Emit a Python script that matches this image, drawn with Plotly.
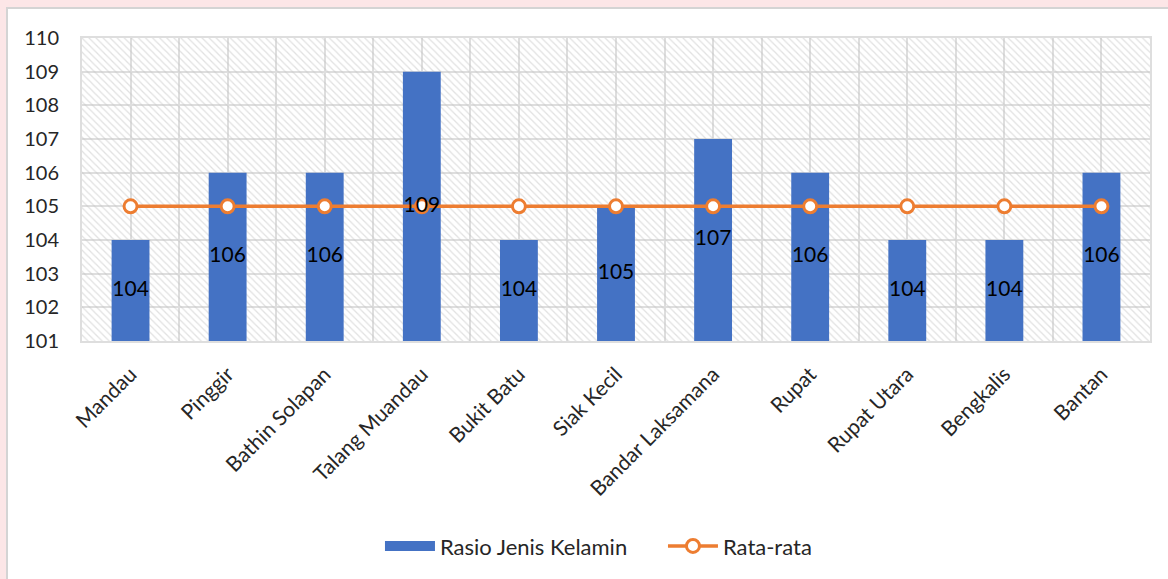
import plotly.graph_objects as go

kecamatan = ["Mandau", "Pinggir", "Bathin Solapan", "Talang Muandau", "Bukit Batu",
             "Siak Kecil", "Bandar Laksamana", "Rupat", "Rupat Utara", "Bengkalis", "Bantan"]
rasio = [104, 106, 106, 109, 104, 105, 107, 106, 104, 104, 106]
rata_rata = [105] * len(kecamatan)
y_min, y_max = 101, 110

FONT = "Lato, 'Open Sans', sans-serif"
BLUE = "#4472C4"
ORANGE = "#ED7D31"
GRID = "#dedede"
n = len(kecamatan)

fig = go.Figure()

# hatched plot-area background on the base (linear) x axis
fig.add_trace(go.Bar(
    x=[(n - 1) / 2], y=[y_max - y_min], base=y_min, width=n,
    xaxis="x", marker=dict(color="rgba(0,0,0,0)", line_width=0,
                           pattern=dict(shape="\\", size=5, solidity=0.25,
                                        fgcolor="#c4c4c4", bgcolor="rgba(0,0,0,0)")),
    showlegend=False, hoverinfo="skip",
))

# data on the overlay category axis so it sits above the hatch
fig.add_trace(go.Bar(
    x=kecamatan, y=[v - y_min for v in rasio], base=y_min, xaxis="x2",
    name="Rasio Jenis Kelamin", marker=dict(color=BLUE, line_width=0), width=0.39,
    customdata=rasio, hovertemplate="%{x}: %{customdata}<extra></extra>",
    showlegend=False, legendgroup="rasio",
))
# wide legend key for the bars
fig.add_trace(go.Scatter(
    x=[None], y=[None], xaxis="x2", mode="lines", name="Rasio Jenis Kelamin",
    line=dict(color=BLUE, width=14), legendgroup="rasio", hoverinfo="skip",
))

fig.add_trace(go.Scatter(
    x=kecamatan, y=rata_rata, name="Rata-rata", mode="lines+markers", xaxis="x2",
    line=dict(color=ORANGE, width=3.5),
    marker=dict(symbol="circle", size=13, color="white", line=dict(color=ORANGE, width=3)),
))

# data labels, centred in the visible part of each bar, drawn on top of the line
fig.add_trace(go.Scatter(
    x=kecamatan, y=[(y_min + v) / 2 for v in rasio], xaxis="x2", mode="text",
    text=[str(v) for v in rasio], textfont=dict(color="black", size=21, family=FONT),
    showlegend=False, hoverinfo="skip",
))

fig.update_layout(
    width=1168, height=579,
    margin=dict(l=82, r=18, t=38, b=238, autoexpand=False),
    paper_bgcolor="#fce6e7", plot_bgcolor="white",
    font=dict(family=FONT, color="#262626"),
    bargap=0.6, barmode="overlay",
    xaxis=dict(range=[-0.5, n - 0.5], dtick=0.5, tick0=-0.5,
               showgrid=True, gridcolor=GRID, gridwidth=1.5, showticklabels=False,
               zeroline=False, ticks="",
               showline=True, linecolor=GRID, linewidth=2, mirror=True),
    xaxis2=dict(type="category", overlaying="x", side="bottom", showgrid=False,
                tickangle=-45, tickfont=dict(size=21, color="#262626"), ticks="",
                range=[-0.5, n - 0.5], zeroline=False, ticklabelstandoff=16),
    yaxis=dict(range=[y_min, y_max], dtick=1, showgrid=True, gridcolor=GRID, gridwidth=1.5,
               tickfont=dict(size=20, color="#262626"), zeroline=False,
               showline=True, linecolor=GRID, linewidth=2, mirror=True, ticklen=0,
               ticklabelstandoff=17),
    legend=dict(orientation="h", x=0.279, xanchor="left", y=-0.677, yanchor="middle",
                font=dict(size=22, color="#262626"), bgcolor="rgba(0,0,0,0)",
                itemwidth=50, tracegroupgap=0, entrywidth=218, entrywidthmode="pixels"),
    shapes=[dict(type="rect", xref="paper", yref="paper",
                 x0=-75 / 1068, x1=1.1, y0=-1, y1=1 + 30 / 303,
                 fillcolor="white", line=dict(color="#d4d4d4", width=2), layer="below")],
)

fig.write_html("out.html", config={"displayModeBar": False},
               post_script="document.body.style.margin='0';")
